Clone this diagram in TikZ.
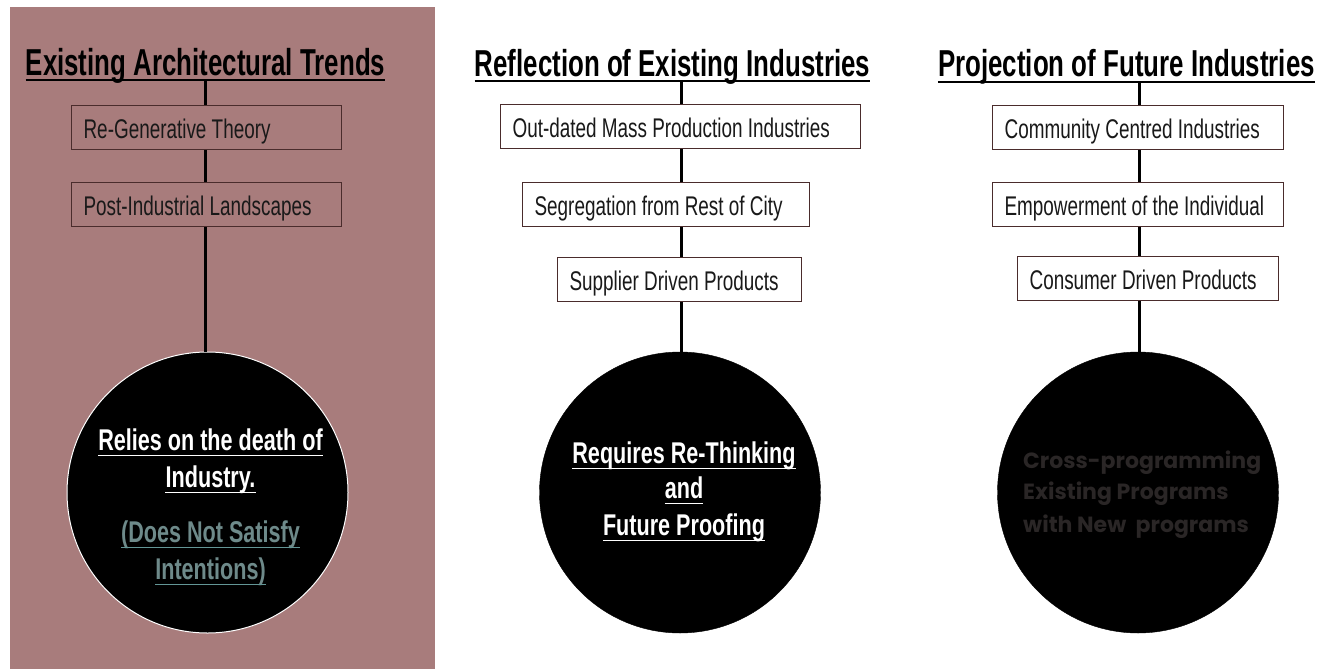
\documentclass[tikz,border=0pt]{standalone}
\usepackage{fontspec}
\newfontfamily\agency[FakeStretch=0.72]{Liberation Sans}
\newfontfamily\agencyt[FakeStretch=0.69]{Liberation Sans}
\newfontfamily\agencyr[FakeStretch=0.70]{Liberation Sans}
\newfontfamily\gothic{Poppins}
\usetikzlibrary{calc}
\definecolor{pinkbg}{HTML}{A87C7C}
\definecolor{boxline}{HTML}{4A2C2C}
\definecolor{tealgrey}{HTML}{6E8A8A}
\definecolor{darkgrey}{HTML}{2A2626}
\newcommand\myul[6]{%
  \node[#2] (#1) at (#3) {#4};
  \draw[#5] ([yshift=-#6pt]#1.base west) -- ([yshift=-#6pt]#1.base east);}
\newcommand\bxt[2]{\makebox[#1pt][l]{#2}}
\begin{document}
\begin{tikzpicture}[x=1pt,y=-1pt,
  title/.style={font=\agencyt\bfseries\fontsize{37.5}{40}\selectfont, text=black, inner sep=0, anchor=base},
  titleul/.style={draw=black, line width=2pt},
  item/.style={draw=boxline, line width=1.2pt, text height=32.5pt, text depth=11.5pt, inner xsep=12pt, inner ysep=0pt,
    anchor=north west, font=\agencyr\fontsize{27}{30}\selectfont, text=black!90},
  conn/.style={draw=black, line width=3pt},
  bigcircle/.style={circle, fill=black, minimum size=281pt, inner sep=0pt},
  ctext/.style={font=\agency\bfseries\fontsize{30}{34}\selectfont, text=white, inner sep=0, anchor=base},
  ctextb/.style={font=\agency\bfseries\fontsize{30}{34}\selectfont, text=tealgrey, inner sep=0, anchor=base},
  cul/.style={draw=white, line width=1.5pt},
  culb/.style={draw=tealgrey!90!cyan, line width=1.5pt},
  gtext/.style={font=\gothic\bfseries\fontsize{22}{26}\selectfont, text=darkgrey, inner sep=0, anchor=base west}
]
\useasboundingbox (0,0) rectangle (1337,669);
\fill[white] (0,0) rectangle (1337,669);
\fill[pinkbg] (10,7) rectangle (435,669);

% column x coordinates
\coordinate (x1) at (205,0);
\coordinate (x2) at (681,0);
\coordinate (x3) at (1139,0);

% titles
\myul{t1}{title}{205.5,75}{Existing Architectural Trends}{titleul}{5}
\myul{t2}{title}{672.5,76}{Reflection of Existing Industries}{titleul}{5}
\myul{t3}{title}{1126.5,76}{Projection of Future Industries}{titleul}{6}
\coordinate (u1) at ([yshift=-5pt]t1.base);
\coordinate (u2) at ([yshift=-5pt]t2.base);
\coordinate (u3) at ([yshift=-6pt]t3.base);

% left column boxes
\node[item] (a1) at (71,105) {\bxt{246}{Re-Generative Theory}};
\node[item] (a2) at (71,182) {\bxt{246}{Post-Industrial Landscapes}};
% middle column boxes
\node[item, fill=white] (b1) at (500,104) {\bxt{336}{Out-dated Mass Production Industries}};
\node[item, fill=white] (b2) at (522,182) {\bxt{263}{Segregation from Rest of City}};
\node[item, fill=white] (b3) at (557,257) {\bxt{220}{Supplier Driven Products}};
% right column boxes
\node[item, fill=white] (r1) at (992,105) {\bxt{267}{Community Centred Industries}};
\node[item, fill=white] (r2) at (992,182) {\bxt{267}{Empowerment of the Individual}};
\node[item, fill=white] (r3) at (1017,256) {\bxt{237}{Consumer Driven Products}};

% circles
\node[bigcircle, draw=white, line width=1pt] (c1) at (207.5,492.5) {};
\node[bigcircle, draw=black] (c2) at (680,492.5) {};
\node[bigcircle, draw=black] (c3) at (1138,492.5) {};

% connectors
\draw[conn] (u1 -| x1) -- (a1.north -| x1);
\draw[conn] (a1.south -| x1) -- (a2.north -| x1);
\draw[conn] (a2.south -| x1) -- (c1.north -| x1);
\draw[conn] (u2 -| x2) -- (b1.north -| x2);
\draw[conn] (b1.south -| x2) -- (b2.north -| x2);
\draw[conn] (b2.south -| x2) -- (b3.north -| x2);
\draw[conn] (b3.south -| x2) -- (c2.north -| x2);
\draw[conn] (u3 -| x3) -- (r1.north -| x3);
\draw[conn] (r1.south -| x3) -- (r2.north -| x3);
\draw[conn] (r2.south -| x3) -- (r3.north -| x3);
\draw[conn] (r3.south -| x3) -- (c3.north -| x3);

% circle texts
\myul{l1}{ctext}{210.5,450}{Relies on the death of}{cul}{5.5}
\myul{l2}{ctext}{210.5,487}{Industry.}{cul}{5.5}
\myul{l3}{ctextb}{210.5,542}{(Does Not Satisfy}{culb}{5.5}
\myul{l4}{ctextb}{210.5,579}{Intentions)}{culb}{5.5}

\myul{m1}{ctext}{684,463}{Requires Re-Thinking}{cul}{5.5}
\myul{m2}{ctext}{684,498}{and}{cul}{5.5}
\myul{m3}{ctext}{684,535}{Future Proofing}{cul}{5.5}

\node[gtext] (g1) at (1023,468) {Cross-programming};
\node[gtext] (g2) at (1023,499) {Existing Programs};
\node[gtext] (g3) at (1023,532) {with New~ programs};
\end{tikzpicture}
\end{document}
